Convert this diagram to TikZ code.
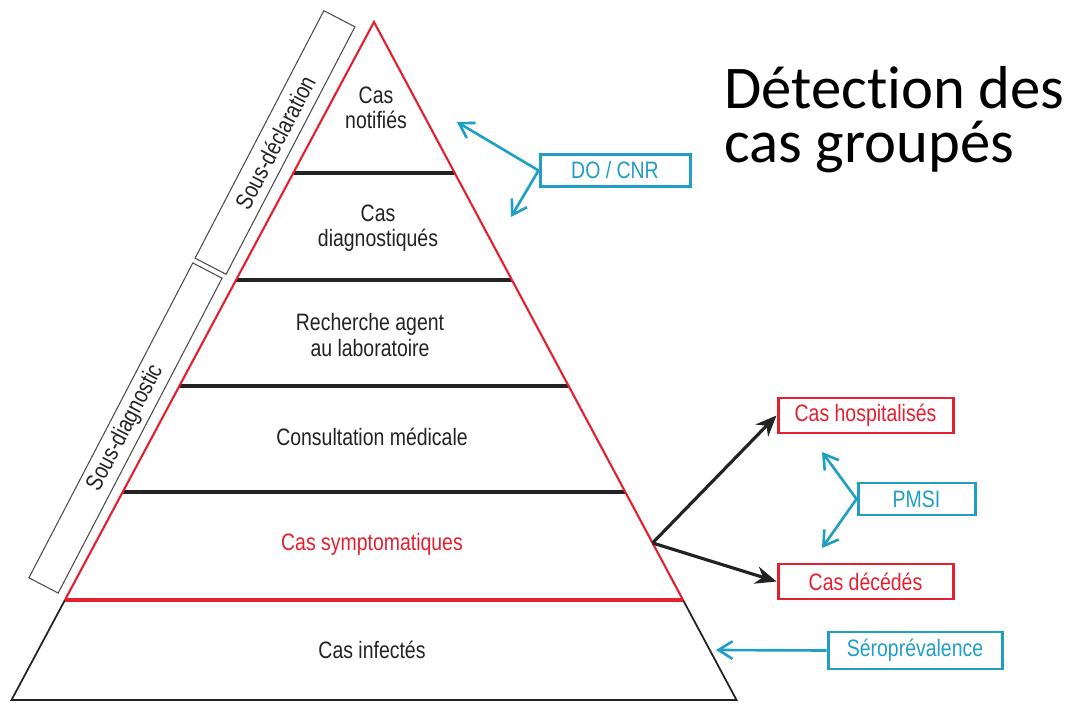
\documentclass[tikz,border=0pt]{standalone}
\usepackage{fontspec}
\newfontfamily\condfont{Liberation Sans}[FakeStretch=0.82]
\newfontfamily\titlefont{Carlito}[Ligatures=NoCommon]
\usepackage{tikz}
\usetikzlibrary{arrows.meta,calc,positioning}
\definecolor{pyrred}{RGB}{228,32,48}
\definecolor{pmsiblue}{RGB}{32,158,196}
\definecolor{darktext}{RGB}{35,35,35}
\tikzstyle{layer}=[font=\condfont\fontsize{13.5}{14.5}\selectfont,text=darktext,align=center]
\tikzstyle{redbox}=[draw=pyrred,line width=1.7pt,text=pyrred,font=\condfont\fontsize{13.5}{14.5}\selectfont,minimum width=35mm,minimum height=7mm,inner sep=0pt]
\tikzstyle{bluebox}=[draw=pmsiblue,line width=1.7pt,text=pmsiblue,font=\condfont\fontsize{13.5}{14.5}\selectfont,minimum height=6.4mm,inner sep=0pt]
\tikzstyle{sidebox}=[draw=black!70,line width=0.6pt,rotate=62.5,inner sep=0pt,text=darktext,font=\condfont\fontsize{13.5}{14.5}\selectfont]
\tikzstyle{bluearrow}=[-{Straight Barb[length=8pt,width=10pt]},draw=pmsiblue,line width=1.5pt]
\tikzstyle{blackarrow}=[-{Stealth[length=12pt,width=10pt]},draw=darktext,line width=1.8pt]

\begin{document}
\begin{tikzpicture}[x=0.2mm,y=-0.2mm]
\useasboundingbox (0,0) rectangle (1070,703);

% pyramid
\coordinate (top) at (374,22);
\coordinate (bl) at (11.5,700);
\coordinate (br) at (736.5,700);
\coordinate (sl) at ($(top)!0.8525!(bl)$);
\coordinate (sr) at ($(top)!0.8525!(br)$);
\coordinate (sym) at ($(top)!0.7684!(br)$);

\draw[line width=1pt,darktext] (sl) -- (bl) -- (br) -- (sr);
\foreach \t in {0.2227,0.3805,0.5369,0.6932}
  \draw[line width=1.8pt,darktext] ($(top)!\t!(bl)$) -- ($(top)!\t!(br)$);
\draw[pyrred,line width=1.2pt,line join=miter] (sl) -- (top) -- (sr);
\draw[pyrred,line width=1.8pt] (sl) -- (sr);

\node[layer] (notif) at (376,108) {Cas\\notifiés};
\node[layer] (diag) at (378,228) {Cas\\diagnostiqués};
\node[layer] (labo) at (370,335) {Recherche agent\\au laboratoire};
\node[layer] (consult) at (372,437) {Consultation médicale};
\node[layer,text=pyrred] (sympt) at (372,544) {Cas symptomatiques};
\node[layer] (infect) at (372,650) {Cas infectés};

% side boxes
\node[sidebox,minimum width=55.8mm,minimum height=7mm] (sousdecl) at (275,142.5) {Sous-déclaration};
\node[sidebox,minimum width=71mm,minimum height=6.6mm] (sousdiag) at (125.5,428) {Sous-diagnostic};

% boxes on the right
\node[redbox] (hosp) at (865.5,415.5) {Cas hospitalisés};
\node[redbox] (deces) at (865.5,581.5) {Cas décédés};
\node[bluebox,minimum width=30mm] (docnr) at (615,170.5) {DO / CNR};
\node[bluebox,minimum width=23.4mm] (pmsi) at (916.5,499) {PMSI};
\node[bluebox,minimum width=34.8mm,minimum height=7.4mm] (sero) at (915,650.5) {Séroprévalence};

\coordinate (do1) at (457,122);
\coordinate (do2) at (511,217);
\coordinate (pm1) at (822,452);
\coordinate (pm2) at (822,548);
\coordinate (se1) at (716,650);

\draw[blackarrow] (sym) -- (hosp.west);
\draw[blackarrow] (sym) -- (deces.west);
\draw[bluearrow] (docnr.west) -- (do1);
\draw[bluearrow] (docnr.west) -- (do2);
\draw[bluearrow] (pmsi.west) -- (pm1);
\draw[bluearrow] (pmsi.west) -- (pm2);
\draw[bluearrow] (sero.west) -- (se1);

\node[anchor=north west,align=left,inner sep=0pt,font=\titlefont\fontsize{34.5}{31}\selectfont] (titre) at (724,66) {Détection des\\cas groupés};

\end{tikzpicture}
\end{document}
